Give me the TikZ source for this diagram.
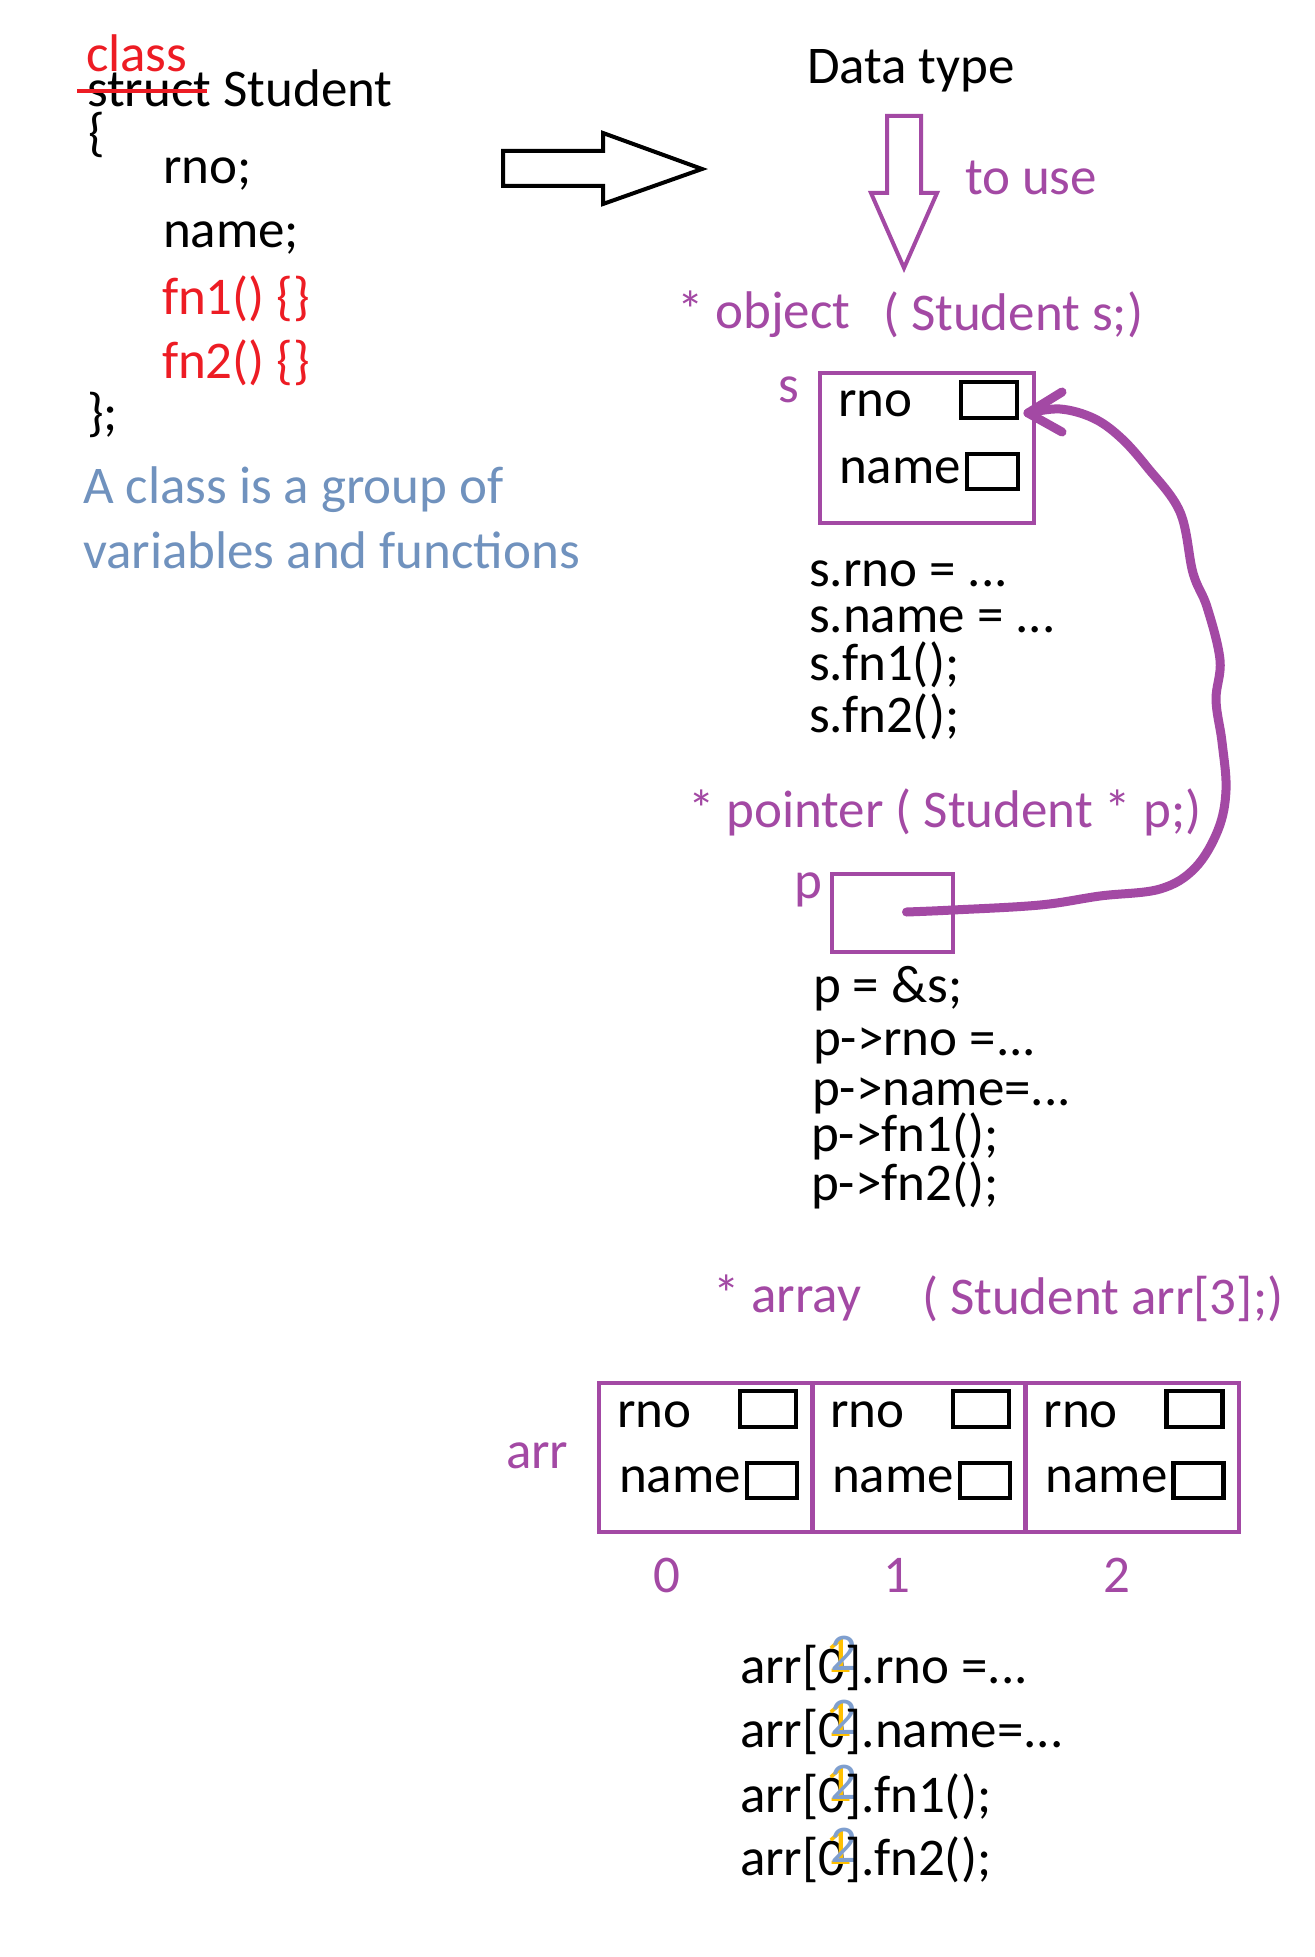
\documentclass[tikz,border=0pt]{standalone}
\usepackage{fontspec}
\setmainfont{Carlito}
\usetikzlibrary{calc}
\definecolor{pur}{HTML}{A349A4}
\definecolor{redc}{HTML}{ED1C24}
\definecolor{bgray}{HTML}{7092BE}
\definecolor{ovy}{HTML}{FFC000}
\definecolor{ovb}{HTML}{7F9FCF}
\newcommand{\ovz}{\rlap{0}\rlap{\hspace{3.5pt}\raisebox{5.5pt}{\color{ovy}1}}\rlap{\hspace{6pt}\raisebox{6.5pt}{\color{ovb}2}}\phantom{0}}
\begin{document}
\begin{tikzpicture}[x=0.5pt,y=-0.5pt,
  txt/.style={anchor=base west,inner sep=0pt,outer sep=0pt,font=\fontsize{26.5pt}{30pt}\selectfont},
  ptxt/.style={txt,text=pur},
  rtxt/.style={txt,text=redc},
  gtxt/.style={txt,text=bgray},
  ctxt/.style={txt,anchor=base,text=pur},
  pbx/.style={draw=pur,line width=2pt,inner sep=0pt,outer sep=0pt,rectangle},
  bbx/.style={draw=black,line width=2.2pt,inner sep=0pt,outer sep=0pt,rectangle},
  curv/.style={draw=pur,line width=4.5pt,line cap=round,line join=round},
  bigarrow/.style={line width=2pt,line join=miter}]
\fill[white] (0,0) rectangle (1314,1957);
\useasboundingbox (0,0) rectangle (1314,1957);

% ---- left: class definition
\node[rtxt] (kwclass) at (86,72) {class};
\node[txt] (kwstruct) at (87,107) {struct Student};
\draw[redc,line width=2pt] (77,91) -- (207,91);
\node[txt] (lbrace) at (88,151) {\{};
\node[txt] (mrno) at (163,184) {rno;};
\node[txt] (mname) at (163,248) {name;};
\node[rtxt] (mfn1) at (162,315) {fn1() \{\}};
\node[rtxt] (mfn2) at (162,379) {fn2() \{\}};
\node[txt] (rbrace) at (87,430) {\};};
\node[gtxt] (desc1) at (83,503) {A class is a group of};
\node[gtxt] (desc2) at (83,568) {variables and functions};

% ---- big black arrow
\draw[bigarrow] (503,151) -- (603,151) -- (603,133) -- (702,169) -- (603,204) -- (603,186) -- (503,186) -- cycle;

% ---- data type
\node[txt] (dtype) at (807,84) {Data type};
\draw[bigarrow,draw=pur] (887,116) -- (921,116) -- (921,193) -- (937,193) -- (904,268) -- (871,193) -- (887,193) -- cycle;
\node[ptxt] (touse) at (965,195) {to use};

% ---- object
\node[ptxt] (objh) at (677,329) {* object};
\node[ptxt] (objd) at (883,331) {( Student s;)};
\node[ptxt] (slab) at (778,403) {s};
\node[pbx,minimum width=107pt,minimum height=75pt] (sbox) at (927,448) {};
\node[txt] (srno) at (838,417) {rno};
\node[txt] (sname) at (839,483) {name};
\node[bbx,minimum width=28pt,minimum height=18pt] (srnob) at (989,400) {};
\node[bbx,minimum width=25.5pt,minimum height=17.5pt] (snameb) at (992.5,471.5) {};
\node[txt] (sc1) at (809,586) {s.rno = ...};
\node[txt] (sc2) at (809,632) {s.name = ...};
\node[txt] (sc3) at (809,680) {s.fn1();};
\node[txt] (sc4) at (809,732) {s.fn2();};

% ---- pointer
\node[ptxt] (ptrh) at (688,827) {* pointer ( Student * p;)};
\node[ptxt] (plab) at (794,898) {p};
\node[pbx,minimum width=60.5pt,minimum height=39pt] (pbox) at (892.5,913) {};
\node[txt] (pc1) at (813,1002) {p = \&s;};
\node[txt] (pc2) at (813,1055) {p->rno =...};
\node[txt] (pc3) at (812,1105) {p->name=...};
\node[txt] (pc4) at (811,1151) {p->fn1();};
\node[txt] (pc5) at (811,1200) {p->fn2();};

% ---- hand-drawn connector p -> s
\coordinate (cs) at ($(pbox.center)+(14,-1)$);
\coordinate (ce) at ($(sbox.east)+(-6,-35)$);
\draw[curv] plot[smooth,tension=0.6] coordinates {(cs) (953,910) (1040,905) (1100,896) (1160,889) (1195,868) (1218,830) (1226,790) (1222,742) (1216,700) (1220,660) (1207,607) (1193,573) (1180,512) (1147,467) (1120,437) (1093,418) (1060,409) (ce)};
\draw[curv] ($(ce)+(34,-21)$) -- (ce) -- ($(ce)+(34,19)$);

% ---- array
\node[ptxt] (arrh) at (713,1312) {* array};
\node[ptxt] (arrd) at (922,1314) {( Student arr[3];)};
\node[ptxt] (arrlab) at (506,1468) {arr};
\foreach \i/\cx in {0/705.5,1/918.5,2/1132}{
  \node[pbx,minimum width=107pt,minimum height=74.5pt] (cell\i) at (\cx,1457.5) {};
  \node[txt] (crno\i) at ({\cx-88.5},1427) {rno};
  \node[txt] (cname\i) at ({\cx-86.5},1492) {name};
  \node[bbx,minimum width=28pt,minimum height=18pt] (crnob\i) at ({\cx+62.5},1409) {};
  \node[bbx,minimum width=25pt,minimum height=17.5pt] (cnameb\i) at ({\cx+66.5},1480.5) {};
}
\node[ctxt] (idx0) at (667,1592) {0};
\node[ctxt] (idx1) at (897,1592) {1};
\node[ctxt] (idx2) at (1117,1592) {2};

\node[txt] (ac1) at (740,1683) {arr[\ovz].rno =...};
\node[txt] (ac2) at (740,1747) {arr[\ovz].name=...};
\node[txt] (ac3) at (740,1812) {arr[\ovz].fn1();};
\node[txt] (ac4) at (740,1875) {arr[\ovz].fn2();};
\end{tikzpicture}
\end{document}
